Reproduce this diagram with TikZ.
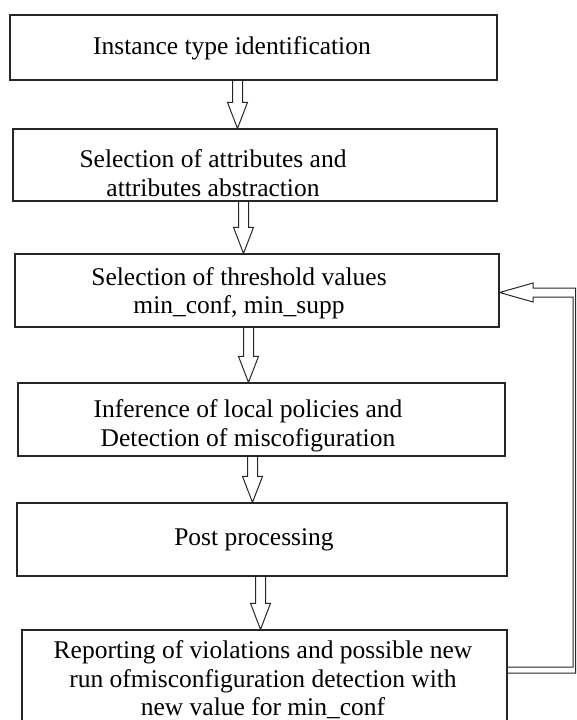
\documentclass[tikz,border=0pt]{standalone}
\usepackage{fontspec}
\setmainfont{Liberation Serif}
\usetikzlibrary{calc}

\tikzset{
  stepbox/.style={draw=black!85, line width=1.2pt, rectangle},
  steptext/.style={align=center, inner sep=0pt,
    font=\fontsize{25.5}{28.5}\selectfont},
  hollow/.style={draw=black!85, line width=1pt, line join=miter}
}

\begin{document}
\begin{tikzpicture}[x=1pt,y=-1pt]
  \useasboundingbox (0,0) rectangle (576,720);
  \clip (0,0) rectangle (576,720);
  % the six steps
  \node[stepbox, minimum width=487pt, minimum height=65pt] (b1) at (253.5,47.5) {};
  \node[stepbox, minimum width=484pt, minimum height=72pt] (b2) at (255,165) {};
  \node[stepbox, minimum width=484pt, minimum height=73pt] (b3) at (257,290.5) {};
  \node[stepbox, minimum width=487pt, minimum height=73pt] (b4) at (261.5,419.5) {};
  \node[stepbox, minimum width=490pt, minimum height=73pt] (b5) at (262,539.5) {};
  \node[stepbox, minimum width=485pt, minimum height=120pt] (b6) at (264.5,690) {};
  % their texts
  \node[steptext] (t1) at (232,48) {Instance type identification};
  \node[steptext] (t2) at (213,173) {Selection of attributes and\\attributes abstraction};
  \node[steptext] (t3) at (239,293) {Selection of threshold values\\min\_conf, min\_supp};
  \node[steptext] (t4) at (248,426) {Inference of local policies and\\Detection of miscofiguration};
  \node[steptext] (t5) at (254,540) {Post processing};
  \node[steptext] (t6) at (263,680) {Reporting of violations and possible new\\run ofmisconfiguration detection with\\new value for min\_conf};
  % arrows down
  \foreach \a/\b/\x in {b1/b2/237.5, b2/b3/243.5, b3/b4/248.5, b4/b5/252.5, b5/b6/260.5}{
    \coordinate (ax) at (\x,0);
    \path (\a.south -| ax) coordinate (s) (\b.north -| ax) coordinate (t);
    \draw[hollow] ($(s)+(-5,0)$) -- ($(t)+(-5,-26)$) -- ($(t)+(-10,-26)$) -- (t)
      -- ($(t)+(10,-26)$) -- ($(t)+(5,-26)$) -- ($(s)+(5,0)$);
  }
  % back to the thresholds
  \draw[hollow] (b6.east |- 0,667) -- (573,667) -- (573,297) -- (533,297) -- (533,302)
    -- (b3.east |- 0,292.5) -- (533,283) -- (533,288) -- (575.5,288) -- (575.5,673)
    -- (b6.east |- 0,673);
\end{tikzpicture}
\end{document}
